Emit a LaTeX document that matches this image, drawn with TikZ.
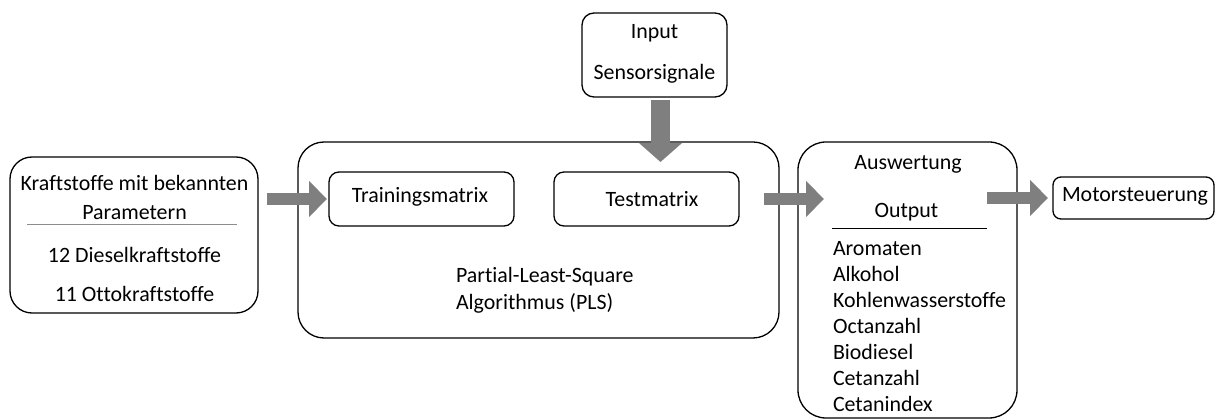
\documentclass[tikz,border=0pt]{standalone}
\usepackage{fontspec}
\setmainfont{Carlito}[Ligatures=CommonOff]
\usetikzlibrary{arrows.meta}
\definecolor{arrowgray}{HTML}{7F7F7F}
\definecolor{linegray}{HTML}{8C8C8C}
\tikzset{
  x=1pt, y=-1pt,
  every node/.style={font=\fontsize{21.9}{26}\selectfont, inner sep=0pt, outer sep=0pt},
  box/.style={draw=black, line width=1.3pt, rectangle, fill=none},
  txt/.style={anchor=base},
  ltxt/.style={anchor=base west},
  fat/.style={draw=arrowgray, line width=12pt, -{Triangle[width=35pt,length=18pt]}},
  fatv/.style={draw=arrowgray, line width=19pt, -{Triangle[width=42pt,length=19pt]}},
}
\begin{document}
\begin{tikzpicture}
\useasboundingbox (0,0) rectangle (1216,419);
% boxes
\node[box, rounded corners=22pt, minimum width=248pt, minimum height=156pt] (kraft) at (134,235) {};
\node[box, rounded corners=12pt, minimum width=145pt, minimum height=84pt] (input) at (654.5,55) {};
\node[box, rounded corners=26pt, minimum width=481pt, minimum height=196pt] (pls) at (538.5,240) {};
\node[box, rounded corners=10pt, minimum width=185pt, minimum height=54pt] (train) at (421.5,199) {};
\node[box, rounded corners=10pt, minimum width=185pt, minimum height=54pt] (test) at (646.5,199) {};
\node[box, rounded corners=28pt, minimum width=219pt, minimum height=276pt] (ausw) at (907.5,280) {};
\node[box, rounded corners=8pt, minimum width=161pt, minimum height=42pt] (motor) at (1133.5,198) {};
% texts
\node[txt] (k1) at (134.5,191) {Kraftstoffe mit bekannten};
\node[txt] (k2) at (134.5,220) {Parametern};
\draw[linegray, line width=1pt] (27,225) coordinate (kl1) -- (237,225) coordinate (kl2);
\node[txt] (k3) at (134.5,263) {12 Dieselkraftstoffe};
\node[txt] (k4) at (134.5,302) {11 Ottokraftstoffe};
\node[txt] (i1) at (654.5,39) {Input};
\node[txt] (i2) at (654.5,80) {Sensorsignale};
\node[txt] (t1) at (420,203) {Trainingsmatrix};
\node[txt] (t2) at (652,207) {Testmatrix};
\node[ltxt] (p1) at (456,283) {Partial-Least-Square};
\node[ltxt] (p2) at (456,310) {Algorithmus (PLS)};
\node[txt] (a1) at (908,170) {Auswertung};
\node[txt] (a2) at (906.5,218) {Output};
\draw[black, line width=1pt] (832,229) coordinate (al1) -- (987,229) coordinate (al2);
\foreach \t [count=\i from 0] in {Aromaten,Alkohol,Kohlenwasserstoffe,Octanzahl,Biodiesel,Cetanzahl,Cetanindex}
  \node[ltxt] (o\i) at (833,256+26*\i) {\t};
\node[ltxt] (m1) at (1062,202) {Motorsteuerung};
% arrows
\draw[fat] ([xshift=9pt]kraft.east |- train.west) -- ([xshift=-2pt]train.west);
\draw[fat] ([xshift=-15pt]pls.east |- test.east) -- ([xshift=26pt]ausw.west |- test.east);
\draw[fat] ([xshift=-30pt]ausw.east |- motor.west) -- ([xshift=-5pt]motor.west);
\draw[fatv] ([xshift=6pt,yshift=-3pt]input.south) -- ([xshift=6pt,yshift=10pt]input.south |- test.north);
\end{tikzpicture}
\end{document}
